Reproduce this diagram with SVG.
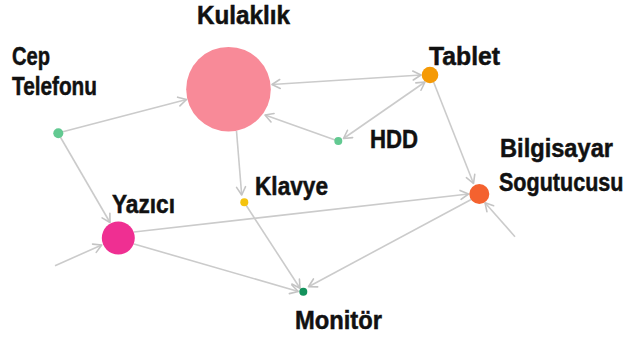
<svg xmlns="http://www.w3.org/2000/svg" width="628" height="342" viewBox="0 0 628 342">
  <defs>
    <style>
      .edge { fill: none; stroke: #cbcbcb; stroke-width: 1.6; }
      .lbl { font-family: "Liberation Sans Narrow", "Liberation Sans", "DejaVu Sans", sans-serif; font-weight: bold; font-size: 25.5px; fill: #111; stroke: #111; stroke-width: 0.5; }
    </style>
    <marker id="arr" viewBox="-10 -6 12 12" markerWidth="12" markerHeight="12" refX="0" refY="0" markerUnits="userSpaceOnUse" orient="auto-start-reverse">
      <path d="M -8 -4.5 L 0 0 L -8 4.5" fill="none" stroke="#c4c4c4" stroke-width="1.6" stroke-linejoin="round" stroke-linecap="round"/>
    </marker>
  </defs>
  <rect width="628" height="342" fill="#ffffff"/>

  <!-- connectors -->
  <g id="edges">
    <line class="edge" x1="58" y1="133" x2="186.5" y2="99.5" marker-end="url(#arr)"/>
    <line class="edge" x1="58" y1="133" x2="110" y2="222.5" marker-end="url(#arr)"/>
    <line class="edge" x1="272" y1="84.5" x2="421" y2="75" marker-start="url(#arr)" marker-end="url(#arr)"/>
    <line class="edge" x1="338" y1="141" x2="265" y2="115" marker-end="url(#arr)"/>
    <line class="edge" x1="343.5" y1="138.5" x2="425" y2="82" marker-start="url(#arr)" marker-end="url(#arr)"/>
    <line class="edge" x1="432" y1="78" x2="473.5" y2="183.5" marker-end="url(#arr)"/>
    <line class="edge" x1="236.5" y1="131" x2="241.7" y2="195" marker-end="url(#arr)"/>
    <line class="edge" x1="244" y1="202" x2="300" y2="288.3" marker-end="url(#arr)"/>
    <line class="edge" x1="134" y1="232" x2="468.5" y2="194" marker-end="url(#arr)"/>
    <line class="edge" x1="134" y1="244" x2="298.3" y2="291.5" marker-end="url(#arr)"/>
    <line class="edge" x1="474" y1="198" x2="308.5" y2="286.7" marker-end="url(#arr)"/>
    <line class="edge" x1="55" y1="265.7" x2="101.7" y2="245" marker-end="url(#arr)"/>
    <line class="edge" x1="515" y1="236.7" x2="485" y2="202.7" marker-end="url(#arr)"/>
  </g>

  <!-- nodes -->
  <g id="kulaklik">
    <circle cx="228.5" cy="89.2" r="42.3" fill="#f88a98"/>
    <text class="lbl" x="197" y="23.5" textLength="93" lengthAdjust="spacingAndGlyphs">Kulaklık</text>
  </g>
  <g id="cep-telefonu">
    <circle cx="58.3" cy="133.3" r="5" fill="#62c991"/>
    <text class="lbl" x="12" y="65" textLength="38" lengthAdjust="spacingAndGlyphs">Cep</text>
    <text class="lbl" x="12" y="95" textLength="85" lengthAdjust="spacingAndGlyphs">Telefonu</text>
  </g>
  <g id="tablet">
    <circle cx="430" cy="75" r="8.3" fill="#f59a06"/>
    <text class="lbl" x="429" y="64.5" textLength="71" lengthAdjust="spacingAndGlyphs">Tablet</text>
  </g>
  <g id="hdd">
    <circle cx="338.3" cy="141" r="4" fill="#62c991"/>
    <text class="lbl" x="370" y="147.5" textLength="48" lengthAdjust="spacingAndGlyphs">HDD</text>
  </g>
  <g id="bilgisayar-sogutucusu">
    <circle cx="479.3" cy="194" r="10" fill="#f4622f"/>
    <text class="lbl" x="500" y="157" textLength="113" lengthAdjust="spacingAndGlyphs">Bilgisayar</text>
    <!-- horizontally narrowed so the long word stays inside the right edge -->
    <text class="lbl" transform="translate(499 190.7) scale(0.845 1)" x="0" y="0">Sogutucusu</text>
  </g>
  <g id="yazici">
    <circle cx="118.3" cy="238" r="16.5" fill="#ef2f92"/>
    <text class="lbl" x="112" y="213" textLength="63" lengthAdjust="spacingAndGlyphs">Yazıcı</text>
  </g>
  <g id="klavye">
    <circle cx="244.3" cy="202.3" r="4" fill="#f4c30f"/>
    <text class="lbl" x="255" y="195" textLength="73" lengthAdjust="spacingAndGlyphs">Klavye</text>
  </g>
  <g id="monitor">
    <circle cx="303.3" cy="291.7" r="4" fill="#13925c"/>
    <text class="lbl" x="295" y="329" textLength="87" lengthAdjust="spacingAndGlyphs">Monitör</text>
  </g>
</svg>
